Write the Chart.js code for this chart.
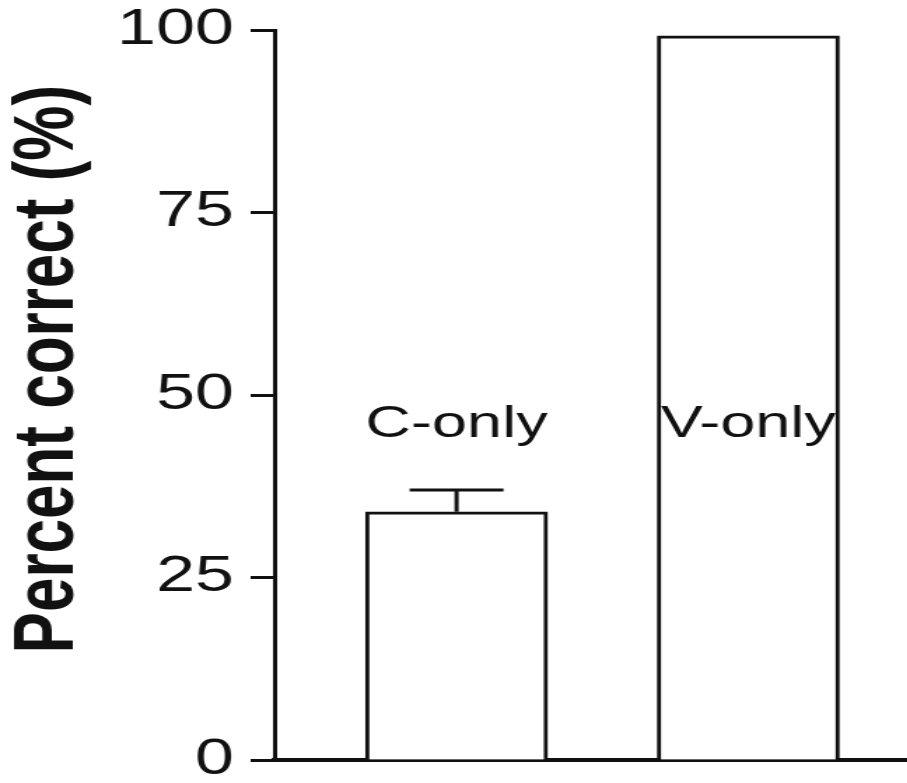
<!DOCTYPE html>
<html>
<head>
<meta charset="utf-8">
<script src="https://cdn.jsdelivr.net/npm/chart.js@4/dist/chart.umd.min.js"></script>
<style>
    html, body { margin: 0; padding: 0; background: #fff; overflow: hidden; }
    /* the reference is stretched sideways, so the canvas is drawn narrow and widened */
    #chart { display: block; transform: scaleX(1.4); transform-origin: 0 0; }
</style>
</head>
<body>
<canvas id="chart" width="648" height="783"></canvas>

<script>
    var categories = ['C-only', 'V-only'];
    var percentCorrect = [34.0, 99.2];
    var errorUp = [3.0, 0];
    var yTicks = [0, 25, 50, 75, 100];

    var ink = '#111';

    // error bars (upper half only) and the group names above the bars
    var extras = {
        id: 'extras',
        afterDatasetsDraw: function (chart, args, opts) {
            var ctx = chart.ctx, xs = chart.scales.x, ys = chart.scales.y;
            ctx.save();
            ctx.strokeStyle = ink;
            ctx.lineWidth = 3;
            for (var i = 0; i < categories.length; i++) {
                var cx = xs.getPixelForValue(i + 1);
                if (errorUp[i] > 0) {
                    var y0 = ys.getPixelForValue(percentCorrect[i]);
                    var y1 = ys.getPixelForValue(percentCorrect[i] + errorUp[i]);
                    ctx.beginPath();
                    ctx.moveTo(cx, y0);
                    ctx.lineTo(cx, y1);
                    ctx.moveTo(cx - opts.capWidth / 2, y1);
                    ctx.lineTo(cx + opts.capWidth / 2, y1);
                    ctx.stroke();
                }
                ctx.fillStyle = ink;
                ctx.font = '45px "Liberation Sans", Arial, sans-serif';
                ctx.textAlign = 'center';
                ctx.textBaseline = 'alphabetic';
                ctx.fillText(categories[i], cx, ys.getPixelForValue(opts.labelLevel));
            }
            ctx.restore();
        }
    };

    new Chart(document.getElementById('chart').getContext('2d'), {
        type: 'bar',
        data: {
            datasets: [{
                data: percentCorrect.map(function (v, i) { return {x: i + 1, y: v}; }),
                backgroundColor: '#fff',
                borderColor: ink,
                borderWidth: 3,
                barThickness: 130
            }]
        },
        options: {
            responsive: false,
            animation: false,
            devicePixelRatio: 1,
            layout: {autoPadding: false, padding: {top: 30, right: 0, bottom: 0, left: 0}},
            plugins: {
                legend: {display: false},
                tooltip: {enabled: false},
                extras: {capWidth: 67, labelLevel: 44.2}
            },
            scales: {
                x: {
                    type: 'linear',
                    offset: false,
                    min: 0.3756,
                    max: 2.5447,
                    grid: {display: false},
                    ticks: {display: false},
                    border: {display: true, color: ink, width: 4},
                    afterFit: function (s) {
                        s.height = 23;
                        s.paddingLeft = s.paddingRight = 0;
                    }
                },
                y: {
                    min: 0,
                    max: 100,
                    afterBuildTicks: function (s) {
                        s.ticks = yTicks.map(function (v) { return {value: v}; });
                    },
                    grid: {
                        display: true,
                        drawOnChartArea: false,
                        drawTicks: true,
                        tickLength: 17,
                        tickWidth: 3,
                        tickColor: ink
                    },
                    border: {display: true, color: ink, width: 3},
                    ticks: {
                        color: ink,
                        padding: 12,
                        font: {family: '"Liberation Sans", Arial, sans-serif', size: 50}
                    },
                    title: {
                        display: true,
                        // leading spaces nudge the centred title upwards like the original
                        text: '   Percent correct (%)',
                        color: ink,
                        padding: {top: 4, bottom: 0},
                        font: {family: '"Liberation Sans", Arial, sans-serif', size: 62, weight: 'bold', lineHeight: 1}
                    },
                    afterFit: function (s) {
                        s.width = 196;
                        s.paddingTop = s.paddingBottom = 0;
                    }
                }
            }
        },
        plugins: [extras]
    });
</script>
</body>
</html>
